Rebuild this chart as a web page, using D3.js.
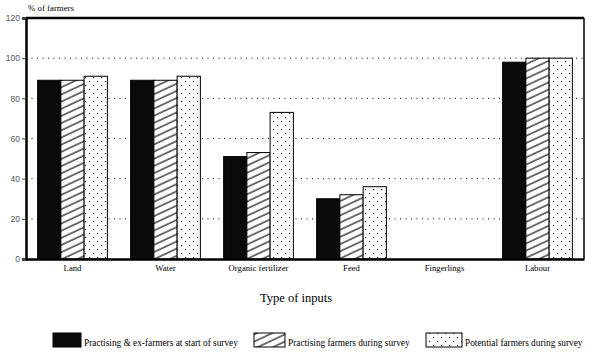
<!DOCTYPE html>
<html><head><meta charset="utf-8">
<script src="https://cdn.jsdelivr.net/npm/d3@7"></script>
<style>body{margin:0;background:#fff}svg{display:block}</style>
</head><body><svg id="c" width="600" height="359"></svg>
<script>
const categories = ["Land","Water","Organic fertilizer","Feed","Fingerlings","Labour"];
const seriesNames = ["Practising & ex-farmers at start of survey","Practising farmers during survey","Potential farmers during survey"];
const startSurvey = [89, 89, 51, 30, 0, 98];
const practisingDuring = [89, 89, 53, 32, 0, 100];
const potentialDuring = [91, 91, 73, 36, 0, 100];
const yTicks = [0,20,40,60,80,100,120];

const svg = d3.select("#c");
const L=26, R=584, T=18, B=259;
const x = d3.scaleBand().domain(categories).range([L,R]).paddingInner(0.25).paddingOuter(0.125);
const xs = d3.scaleBand().domain([0,1,2]).range([0,x.bandwidth()]);
const y = d3.scaleLinear().domain([0,120]).range([B,T]);

const defs = svg.append("defs");
const ph = defs.append("pattern").attr("id","hatch").attr("patternUnits","userSpaceOnUse")
  .attr("width",20).attr("height",6.5).attr("patternTransform","rotate(-25)");
ph.append("rect").attr("width",20).attr("height",6.5).attr("fill","#fff");
ph.append("line").attr("x1",0).attr("x2",20).attr("y1",1).attr("y2",1).attr("stroke","#000").attr("stroke-width",1.1);
const pd = defs.append("pattern").attr("id","dots").attr("patternUnits","userSpaceOnUse")
  .attr("width",8).attr("height",8);
pd.append("rect").attr("width",8).attr("height",8).attr("fill","#fff");
pd.append("rect").attr("x",1).attr("y",1).attr("width",1.1).attr("height",1.1).attr("fill","#000");
pd.append("rect").attr("x",5).attr("y",5).attr("width",1.1).attr("height",1.1).attr("fill","#000");
const fills = ["#0a0a0a","url(#hatch)","url(#dots)"];

// gridlines
svg.append("g").selectAll("line").data(yTicks.filter(d=>d>0&&d<120)).join("line")
  .attr("x1",L).attr("x2",R).attr("y1",d=>y(d)).attr("y2",d=>y(d))
  .attr("stroke","#000").attr("stroke-width",1).attr("stroke-dasharray","1,4.5");

const data = [startSurvey, practisingDuring, potentialDuring];
const g = svg.append("g");
categories.forEach((c,i)=>{
  data.forEach((s,k)=>{
    if (s[i] <= 0) return;
    g.append("rect").attr("x",x(c)+xs(k)).attr("y",y(s[i])).attr("width",xs.bandwidth())
      .attr("height",B-y(s[i])).attr("fill",fills[k]).attr("stroke","#000").attr("stroke-width",1);
  });
});

// frame
svg.append("line").attr("x1",L).attr("x2",R).attr("y1",T).attr("y2",T).attr("stroke","#000").attr("stroke-width",2.5);
svg.append("line").attr("x1",R).attr("x2",R).attr("y1",T).attr("y2",B).attr("stroke","#000").attr("stroke-width",1.5);

// y axis
const ya = svg.append("g").attr("transform",`translate(${L},0)`)
  .call(d3.axisLeft(y).tickValues(yTicks).tickSize(4).tickPadding(2));
ya.select(".domain").attr("stroke-width",2.5);
ya.selectAll("text").attr("font-family","Liberation Sans, Arial, sans-serif").attr("font-size",8.5).attr("fill","#555");
ya.selectAll(".tick line").attr("stroke","#444");

// x axis
const xa = svg.append("g").attr("transform",`translate(0,${B})`)
  .call(d3.axisBottom(x).tickSize(0).tickPadding(6));
xa.select(".domain").attr("stroke-width",2.5);
xa.selectAll("text").attr("font-family","Liberation Serif, Times New Roman, serif").attr("font-size",8.7).attr("fill","#000");

svg.append("text").attr("x",28).attr("y",11).text("% of farmers")
  .attr("font-family","Liberation Serif, serif").attr("font-size",8.8);
svg.append("text").attr("x",296).attr("y",302).attr("text-anchor","middle").text("Type of inputs")
  .attr("font-family","Liberation Serif, serif").attr("font-size",12.5);

// legend
const lg = [{x:53,w:28},{x:254,w:31},{x:426,w:36}];
lg.forEach((p,k)=>{
  svg.append("rect").attr("x",p.x).attr("y",333).attr("width",p.w).attr("height",14)
    .attr("fill",fills[k]).attr("stroke","#000").attr("stroke-width",1);
  svg.append("text").attr("x",p.x+p.w+3).attr("y",346).text(seriesNames[k])
    .attr("font-family","Liberation Serif, serif").attr("font-size",9.3);
});
</script></body></html>
